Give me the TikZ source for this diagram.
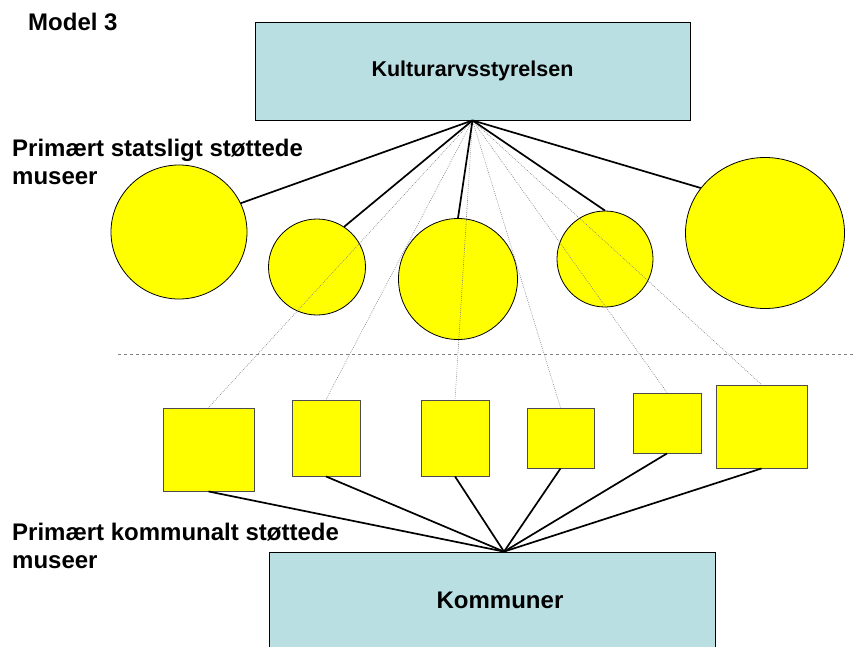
\documentclass[tikz,border=0pt]{standalone}
\usepackage{fontspec}
\setmainfont{Liberation Sans}
\usetikzlibrary{shapes.geometric}

\definecolor{agencyblue}{RGB}{185,223,227}
\definecolor{museumyellow}{RGB}{255,255,0}

\begin{document}
\begin{tikzpicture}[x=1pt, y=-1pt,
    agency/.style={draw=black, fill=agencyblue, line width=0.8pt, inner sep=0pt},
    statemus/.style={ellipse, draw=black, fill=museumyellow, line width=0.8pt, inner sep=0pt},
    localmus/.style={rectangle, draw=black!70, fill=museumyellow, line width=0.9pt, inner sep=0pt},
    heading/.style={anchor=base west, align=left, inner sep=0pt,
        font=\bfseries\fontsize{24}{27.5}\selectfont},
    tie/.style={black, line width=1.7pt},
    loosetie/.style={gray, line width=0.6pt, dash pattern=on 0.8pt off 1.2pt}
]
    \useasboundingbox (0,0) rectangle (856,646);

    % Headings (anchored on the last line)
    \node[heading] (model) at (28,30) {Model 3};
    \node[heading] (statelbl) at (12,184) {Primært statsligt støttede\\museer};
    \node[heading] (locallbl) at (12,568) {Primært kommunalt støttede\\museer};

    % Agencies
    \node[agency, minimum width=435, minimum height=98,
        font=\bfseries\fontsize{21.5}{25}\selectfont] (kas) at (472.5,71) {Kulturarvsstyrelsen};
    \node[agency, minimum width=446, minimum height=96,
        font=\bfseries\fontsize{24}{28}\selectfont] (kom) at (492,600) {\hspace{16pt}Kommuner};
    \coordinate (komtop) at ([xshift=12pt]kom.north);

    % Divider
    \draw[gray, line width=0.8pt, dashed] (118,354) -- (856,354);

    % State museums
    \node[statemus, minimum width=136, minimum height=134] (s1) at (179,232) {};
    \node[statemus, minimum width=97, minimum height=96] (s2) at (317,267) {};
    \node[statemus, minimum width=119, minimum height=121] (s3) at (458,279) {};
    \node[statemus, minimum width=96, minimum height=96] (s4) at (605,259) {};
    \node[statemus, minimum width=159, minimum height=151] (s5) at (765,233) {};

    % Local museums
    \node[localmus, minimum width=91, minimum height=83] (l1) at (208.5,449.5) {};
    \node[localmus, minimum width=68, minimum height=76] (l2) at (326,438) {};
    \node[localmus, minimum width=68, minimum height=76] (l3) at (455,438) {};
    \node[localmus, minimum width=67, minimum height=60] (l4) at (560.5,438) {};
    \node[localmus, minimum width=68, minimum height=60] (l5) at (667,423) {};
    \node[localmus, minimum width=91, minimum height=83] (l6) at (761.5,426.5) {};

    % Weak state ties to local museums
    \foreach \i in {1,...,6} {
        \draw[loosetie] (kas.south) -- (l\i.north);
    }

    % State ties
    \draw[tie] (kas.south) -- (s1.25);
    \draw[tie] (kas.south) -- (s2.56);
    \draw[tie] (kas.south) -- (s3.north);
    \draw[tie] (kas.south) -- (s4.north);
    \draw[tie] (kas.south) -- (s5.145);

    % Municipal ties
    \foreach \i in {1,...,6} {
        \draw[tie] (komtop) -- (l\i.south);
    }
\end{tikzpicture}
\end{document}
